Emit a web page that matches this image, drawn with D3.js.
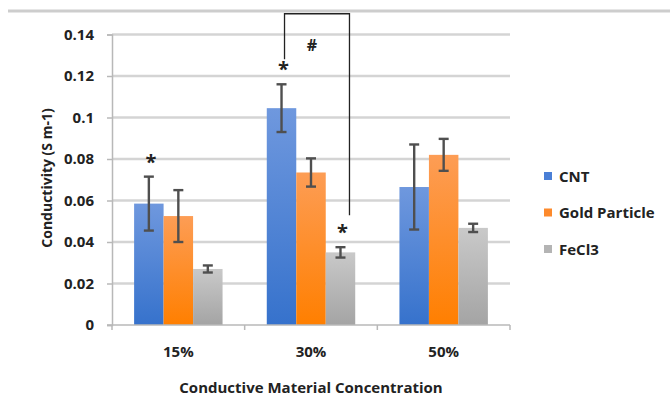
<!DOCTYPE html>
<html>
<head>
<meta charset="utf-8">
<script src="https://cdn.jsdelivr.net/npm/d3@7"></script>
<style>
  html, body { margin: 0; padding: 0; background: #fff; }
  svg { display: block; }
  text { font-family: "Open Sans", Lato, sans-serif; fill: #222; }
</style>
</head>
<body>
<svg id="chart" width="670" height="406"></svg>
<script>
// Conductivity by conductive material concentration
const categories = ["15%", "30%", "50%"];
const seriesNames = ["CNT", "Gold Particle", "FeCl3"];
const cntValues  = [0.0585, 0.1045, 0.0665];
const goldValues = [0.0525, 0.0735, 0.0820];
const feValues   = [0.0270, 0.0350, 0.0468];
const cntErr  = [0.0130, 0.0115, 0.0205];
const goldErr = [0.0125, 0.0068, 0.0077];
const feErr   = [0.0017, 0.0025, 0.0020];
const yTicks = [0, 0.02, 0.04, 0.06, 0.08, 0.1, 0.12, 0.14];
// significance markers: [category, series]
const stars = [["15%", "CNT"], ["30%", "CNT"], ["30%", "FeCl3"]];
// "#" bracket joining two bars of one group, topped at this value
const bracket = { category: "30%", from: "CNT", to: "FeCl3", top: 0.15 };

const values = [cntValues, goldValues, feValues];
const errors = [cntErr, goldErr, feErr];
const data = categories.map((c, i) => ({
  category: c,
  bars: seriesNames.map((s, j) => ({ series: s, value: values[j][i], err: errors[j][i] }))
}));

const svg = d3.select("#chart");
const plot = { left: 112, right: 510, top: 34.5, bottom: 325 };
const FONT = 15;

const x = d3.scaleBand().domain(categories).range([plot.left, plot.right])
  .paddingInner(1 / 3).paddingOuter(1 / 6);
const xs = d3.scaleBand().domain(seriesNames).range([0, x.bandwidth()]);
const y = d3.scaleLinear().domain([0, 0.14]).range([plot.bottom, plot.top]);

const colors = {
  "CNT": ["#6f98de", "#3672cc"],
  "Gold Particle": ["#fd9d55", "#ff7f00"],
  "FeCl3": ["#c9c9c9", "#a4a4a4"]
};
const legendColors = { "CNT": "#4a7fd6", "Gold Particle": "#fd8a2c", "FeCl3": "#b4b4b4" };

const defs = svg.append("defs");
seriesNames.forEach((s, i) => {
  const g = defs.append("linearGradient").attr("id", "grad" + i)
    .attr("x1", 0).attr("y1", 0).attr("x2", 0).attr("y2", 1);
  g.append("stop").attr("offset", "0%").attr("stop-color", colors[s][0]);
  g.append("stop").attr("offset", "100%").attr("stop-color", colors[s][1]);
});

// frame rule along the top
svg.append("line").attr("x1", 8).attr("x2", 670).attr("y1", 11).attr("y2", 11)
  .attr("stroke", "#cdcdcd").attr("stroke-width", 3);

// horizontal gridlines
svg.append("g").selectAll("line").data(yTicks.filter(d => d > 0)).join("line")
  .attr("x1", plot.left).attr("x2", plot.right)
  .attr("y1", d => y(d)).attr("y2", d => y(d))
  .attr("stroke", "#d4d4d4").attr("stroke-width", 2.5);

// y axis
const yAxis = svg.append("g").attr("transform", `translate(${plot.left},0)`)
  .call(d3.axisLeft(y).tickValues(yTicks).tickSize(5).tickPadding(13)
    .tickFormat(d => d === 0 ? "0" : d3.format("")(+d.toFixed(2))));
yAxis.select(".domain").attr("stroke", "#b8b8b8").attr("stroke-width", 1.5);
yAxis.selectAll(".tick line").attr("stroke", "#b8b8b8").attr("stroke-width", 1.5);
yAxis.selectAll(".tick text").attr("font-size", FONT).attr("font-weight", 700)
  .attr("font-family", "'Open Sans', sans-serif").attr("fill", "#222");

// bars
const groups = svg.append("g").selectAll("g").data(data).join("g")
  .attr("transform", d => `translate(${x(d.category)},0)`);
groups.selectAll("rect").data(d => d.bars).join("rect")
  .attr("x", d => xs(d.series)).attr("width", xs.bandwidth())
  .attr("y", d => y(d.value)).attr("height", d => y(0) - y(d.value))
  .attr("fill", d => `url(#grad${seriesNames.indexOf(d.series)})`);

// error bars
const cx = d => xs(d.series) + xs.bandwidth() / 2;
const eb = groups.selectAll("g.err").data(d => d.bars).join("g").attr("class", "err")
  .attr("stroke", "#4f4f4f").attr("stroke-width", 2.4);
eb.append("line")
  .attr("x1", cx).attr("x2", cx)
  .attr("y1", d => y(d.value + d.err)).attr("y2", d => y(d.value - d.err));
eb.append("line")
  .attr("x1", d => cx(d) - 5).attr("x2", d => cx(d) + 5)
  .attr("y1", d => y(d.value + d.err)).attr("y2", d => y(d.value + d.err));
eb.append("line")
  .attr("x1", d => cx(d) - 5).attr("x2", d => cx(d) + 5)
  .attr("y1", d => y(d.value - d.err)).attr("y2", d => y(d.value - d.err));

// x axis
const xAxis = svg.append("g").attr("transform", `translate(0,${plot.bottom})`);
xAxis.append("line").attr("x1", plot.left - 5).attr("x2", plot.right)
  .attr("stroke", "#b8b8b8").attr("stroke-width", 1.5);
const boundaries = categories.map(c => x(c) - x.step() * x.paddingInner() / 2).concat([plot.right]);
xAxis.selectAll("line.t").data(boundaries).join("line").attr("class", "t")
  .attr("x1", d => d).attr("x2", d => d).attr("y1", 0).attr("y2", 5)
  .attr("stroke", "#b8b8b8").attr("stroke-width", 1.5);
xAxis.selectAll("text").data(categories).join("text")
  .attr("x", d => x(d) + x.bandwidth() / 2).attr("y", 32)
  .attr("text-anchor", "middle").attr("font-size", FONT).attr("font-weight", 700)
  .text(d => d);

// axis titles
svg.append("text").attr("x", (plot.left + plot.right) / 2).attr("y", 393)
  .attr("text-anchor", "middle").attr("font-size", FONT).attr("font-weight", 700)
  .text("Conductive Material Concentration");
svg.append("text").attr("transform", "translate(52,178) rotate(-90)")
  .attr("text-anchor", "middle").attr("font-size", 14).attr("font-weight", 700)
  .text("Conductivity (S m-1)");

// legend
const legend = svg.append("g").selectAll("g").data(seriesNames).join("g")
  .attr("transform", (d, i) => `translate(544,${176 + i * 36.5})`);
legend.append("rect").attr("x", 0).attr("y", -4).attr("width", 8).attr("height", 8)
  .attr("fill", d => legendColors[d]);
legend.append("text").attr("x", 15).attr("y", 5.5).attr("font-size", FONT).attr("font-weight", 700)
  .text(d => d);

// significance stars
const barCenter = (c, s) => x(c) + xs(s) + xs.bandwidth() / 2;
const barTop = (c, s) => {
  const b = data.find(d => d.category === c).bars.find(b => b.series === s);
  return y(b.value + b.err);
};
svg.append("g").selectAll("text").data(stars).join("text")
  .attr("x", d => barCenter(d[0], d[1]) + 2).attr("y", d => barTop(d[0], d[1]) - 8)
  .attr("text-anchor", "middle").attr("font-size", 20).attr("font-weight", 700)
  .attr("font-family", "'Liberation Serif', serif").attr("fill", "#000")
  .text("*");

// bracket with "#"
const bx1 = barCenter(bracket.category, bracket.from) + 3;
const bx2 = barCenter(bracket.category, bracket.to) + 9;
const by1 = barTop(bracket.category, bracket.from) - 25;
const by2 = barTop(bracket.category, bracket.to) - 32;
svg.append("path")
  .attr("d", `M${bx1},${by1} V${y(bracket.top)} H${bx2} V${by2}`)
  .attr("fill", "none").attr("stroke", "#222").attr("stroke-width", 1.3);
svg.append("text").attr("x", (bx1 + bx2) / 2 - 5).attr("y", 51)
  .attr("text-anchor", "middle").attr("font-size", 16).attr("font-weight", 700)
  .attr("font-family", "'Liberation Sans', sans-serif")
  .attr("fill", "#000").text("#");
</script>
</body>
</html>
